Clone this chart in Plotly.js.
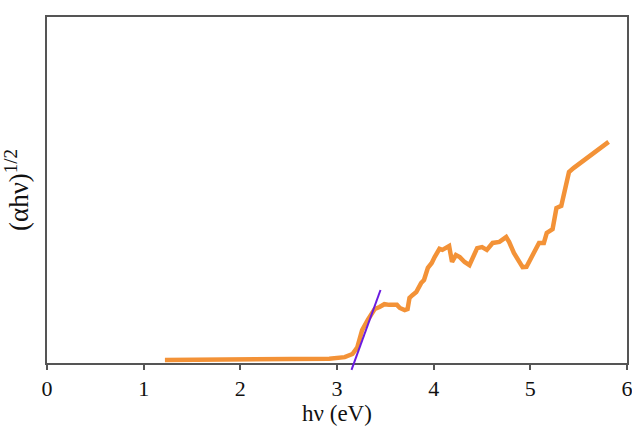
<!DOCTYPE html>
<html>
<head>
<meta charset="utf-8">
<script src="https://cdn.plot.ly/plotly-3.0.1.min.js"></script>
<style>html,body{margin:0;padding:0;background:#fff;}#chart{width:632px;height:428px;}</style>
</head>
<body>
<div id="chart"></div>
<script>
// Energy (eV) and (αhν)^1/2 (arbitrary units)
const energy = [1.22, 1.6, 2.1, 2.6, 2.92, 3.08, 3.16, 3.21, 3.26, 3.32, 3.36, 3.39, 3.44, 3.49, 3.54, 3.62, 3.65, 3.70, 3.73, 3.75, 3.78, 3.82, 3.87, 3.90, 3.94, 3.98, 4.01, 4.06, 4.09, 4.13, 4.16, 4.19, 4.23, 4.27, 4.32, 4.37, 4.42, 4.45, 4.50, 4.55, 4.61, 4.68, 4.75, 4.78, 4.83, 4.88, 4.92, 4.96, 5.02, 5.09, 5.14, 5.17, 5.23, 5.27, 5.32, 5.40, 5.45, 5.81];
const absorb = [0.9, 0.9, 0.9, 1.0, 1.2, 1.7, 2.6, 4.5, 9.5, 12.5, 14.4, 15.6, 16.2, 17.0, 16.8, 16.8, 15.9, 15.3, 15.6, 18.8, 19.6, 20.5, 23.1, 24.0, 27.5, 28.9, 30.6, 33.0, 32.7, 33.5, 33.8, 29.2, 31.2, 30.6, 29.2, 28.3, 31.8, 33.2, 33.5, 32.7, 34.7, 35.0, 36.4, 35.0, 31.8, 29.8, 27.7, 27.8, 31.2, 34.7, 34.7, 37.6, 38.7, 44.8, 45.4, 55.2, 56.4, 63.9];
// Tangent line used to estimate the band gap
const fitX = [3.15, 3.45];
const fitY = [-2.0, 21.1];
const tickVals = [0, 1, 2, 3, 4, 5, 6];
const tickText = ['0', '1', '2', '3', '4', '5', '6'];

const traces = [
  {x: energy, y: absorb, type: 'scatter', mode: 'lines',
   line: {color: '#F39237', width: 4.5}, xaxis: 'x', yaxis: 'y', hoverinfo: 'skip'},
  {x: fitX, y: fitY, type: 'scatter', mode: 'lines',
   line: {color: '#6A1BE0', width: 2}, xaxis: 'x2', yaxis: 'y2', hoverinfo: 'skip'}
];

const layout = {
  width: 632, height: 428,
  margin: {l: 47, r: 5, t: 17, b: 50},
  paper_bgcolor: '#fff', plot_bgcolor: 'rgba(0,0,0,0)',
  showlegend: false,
  font: {family: 'Liberation Serif, serif', color: '#111'},
  xaxis: {
    range: [0, 6], domain: [0, 1], anchor: 'y',
    tickvals: tickVals, ticktext: tickText, ticklabeloverflow: 'allow',
    ticks: 'outside', ticklen: 5, tickwidth: 2, tickcolor: '#555',
    showline: true, linecolor: '#555', linewidth: 2, mirror: true,
    showgrid: false, zeroline: false,
    tickfont: {size: 22, family: 'Liberation Serif, serif', color: '#111'},
    title: {text: 'hν (eV)', font: {size: 23, family: 'Liberation Serif, serif', color: '#111'}, standoff: 4}
  },
  yaxis: {
    range: [0, 100], domain: [15/361, 1], anchor: 'x',
    showticklabels: false, ticks: '',
    showline: true, linecolor: '#555', linewidth: 2, mirror: true,
    showgrid: false, zeroline: false,
    title: {text: '(αhν)<sup>1/2</sup>', font: {size: 27, family: 'Liberation Serif, serif', color: '#111'}, standoff: 10}
  },
  xaxis2: {range: [0, 6], domain: [0, 1], anchor: 'y2', visible: false},
  yaxis2: {range: [-15/3.46, 100], domain: [0, 1], anchor: 'x2', visible: false}
};

Plotly.newPlot('chart', traces, layout, {staticPlot: true, displayModeBar: false});
</script>
</body>
</html>
